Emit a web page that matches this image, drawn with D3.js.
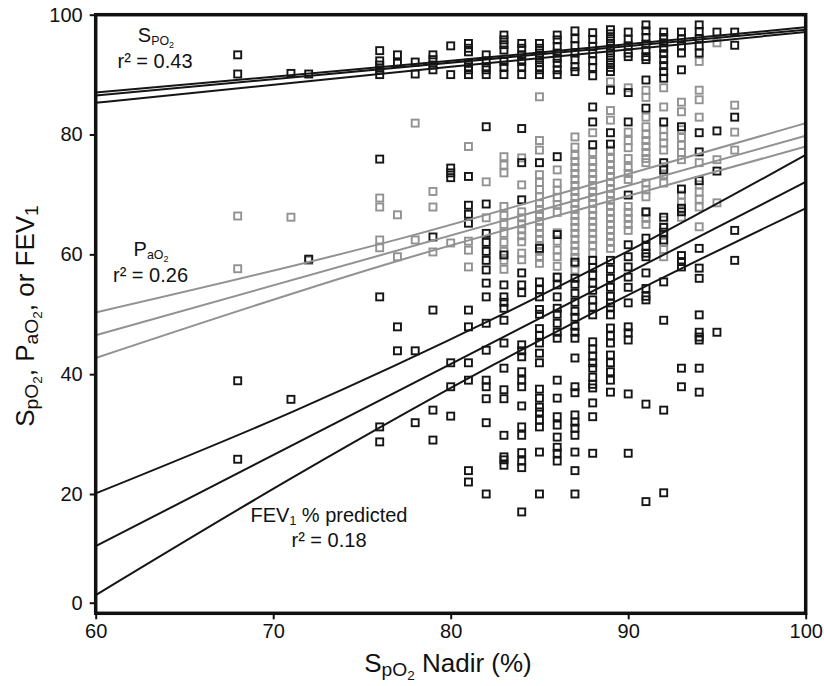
<!DOCTYPE html>
<html><head><meta charset="utf-8">
<script src="https://cdn.jsdelivr.net/npm/d3@7"></script>
<style>
html,body{margin:0;padding:0;background:#fff;}
svg text{font-family:"Liberation Sans",Arial,sans-serif;fill:#111;}
</style></head>
<body><svg id="chart" width="824" height="686"></svg>
<script>
// ---- data ----
const xTicks = [60, 70, 80, 90, 100];
const yTicks = [0, 20, 40, 60, 80, 100];

// awake SpO2 (black squares, top cluster)
const spo2Points = [
 [68,[93.3,90.1]],[71,[90.2]],[72,[90.1]],
 [76,[94.0,92.3,91.6,90.8,90.0]],[77,[93.3,91.9]],[78,[92.1,90.1]],
 [79,[93.3,92.5,91.6,90.8]],[80,[94.8,90.0]],
 [81,[95.2,94.4,93.8,91.9,91.3,90.8,90.0]],[82,[93.3,92.3,91.3,90.8,90.0]],
 [83,[96.6,95.8,95.0,94.1,92.2,91.3,90.0]],[84,[95.2,94.4,93.3,92.2,91.3,90.0]],
 [85,[95.2,94.4,93.6,92.8,92.0,91.3,90.8,90.0]],[86,[96.6,95.8,94.7,93.6,92.7,91.9,90.8,90.0]],
 [87,[97.3,96.0,94.8,93.6,92.5,91.3,90.5]],[88,[97.0,95.9,94.7,93.5,92.3,91.2,89.8]],
 [89,[97.5,96.8,96.0,95.2,94.4,93.6,92.8,92.0,91.2,90.5]],[90,[97.1,95.9,94.8,93.6,93.0]],
 [91,[98.3,97.3,96.2,95.1,94.0,93.0,92.5]],[92,[97.1,96.2,95.3,94.4,93.5,92.5,91.5,90.5,89.4]],
 [93,[97.1,96.0,94.8,93.6,90.8]],[94,[98.3,97.2,96.0,94.8,93.6]],[95,[97.1]],[96,[97.1,94.9]]
];

// PaO2 (grey squares)
const pao2Points = [
 [68,[66.4,57.6]],[71,[66.2]],[72,[59.0]],[76,[69.4,67.9,62.4,61.1]],[77,[66.6,59.6]],
 [78,[81.9,62.4]],[79,[70.5,67.9,60.4]],[80,[61.9]],[81,[78.0,62.2,60.7,57.9]],[82,[72.1,66.1]],
 [83,[76.3,74.9,73.6,68.0,66.5,65.0,63.5,62.0,60.5,59.0,57.5]],
 [84,[76.1,71.6,67.1,66.1,65.1,64.1,63.1,62.1,60.2,59.1]],
 [85,[86.3,79.0,77.4,73.3,72.0,70.8,69.6,68.5,67.5,66.5,65.5,64.5,63.5,62.5,61.5,60.5,59.5,58.5]],
 [86,[74.1,71.9,70.7,69.5,68.3,67.0,63.6,62.2,60.7,59.6,58.0,56.2]],
 [87,[79.6,77.9,76.5,75.5,74.5,73.5,72.5,71.5,70.5,69.5,68.5,67.5,66.5,65.5,64.5,63.5,62.5,61.5,60.5,59.5,58.5,57.4]],
 [88,[80.3,77.0,75.5,74.5,73.5,72.5,71.5,70.5,69.5,68.5,67.5,66.5,65.5,64.5,63.5,62.5,61.5,60.2]],
 [89,[88.8,84.0,82.4,77.4,76.0,75.0,74.0,73.0,72.0,71.0,70.0,69.0,68.0,67.0,66.0,65.0,64.0,63.0,62.0,61.0]],
 [90,[87.8,80.4,79.0,77.8,76.0,74.5,73.5,72.5,68.0,67.0,66.0,65.0,64.0]],
 [91,[87.4,86.2,82.9,81.3,80.0,79.0,78.0,77.0,76.0,75.3,71.9,70.8,69.6,67.0,66.0,65.0]],
 [92,[87.8,84.6,80.8,79.7,78.6,77.4,74.6,73.3,71.9,65.7,64.5,63.3,62.0,60.8,59.6]],
 [93,[85.4,83.8,80.8,79.5,78.2,77.0,75.8,69.9,68.7,67.5,66.2]],
 [94,[92.2,87.4,85.8,82.9,75.3,71.6,70.4,69.2,67.9,64.6]],
 [95,[95.3,75.8,68.6]],[96,[84.9,80.4,77.4]]
];

// FEV1 % predicted (black squares, lower cloud)
const fev1Points = [
 [68,[38.9,25.8]],[71,[35.8]],[72,[59.2]],[76,[75.9,52.9,31.2,28.7]],[77,[47.9,43.9]],
 [78,[43.9,31.9]],[79,[62.9,50.7,34.0,29.0]],[80,[74.4,73.6,72.8,41.9,37.9,33.0]],
 [81,[73.0,68.2,66.7,65.2,50.7,47.9,41.9,39.0,23.9,22.0]],
 [82,[81.3,68.4,63.5,62.0,60.5,59.0,57.4,55.2,52.9,48.5,44.0,39.0,37.9,35.9,31.9,20.0]],
 [83,[59.9,54.9,52.9,52.0,51.0,49.0,45.2,41.0,37.4,35.9,29.8,26.2,25.7,24.8]],
 [84,[81.0,75.3,69.1,56.9,54.9,53.6,44.9,43.9,42.9,40.4,39.0,37.9,34.7,31.2,29.8,26.9,25.5,24.4,16.7]],
 [85,[75.3,61.0,55.4,54.1,52.9,50.8,50.0,47.6,46.5,45.2,43.5,41.9,37.5,36.0,34.5,33.7,32.3,31.2,27.0,20.0]],
 [86,[76.3,63.3,56.2,54.9,52.9,51.0,50.0,48.5,47.0,46.0,39.0,36.0,32.9,31.5,29.5,27.8,26.8,25.5]],
 [87,[58.7,56.0,55.0,53.5,52.0,50.5,49.5,48.0,47.0,46.0,42.7,37.9,36.9,33.2,32.0,31.0,29.8,27.0,23.9,20.0]],
 [88,[84.6,82.1,78.3,59.0,57.8,56.5,55.2,54.0,52.4,51.2,49.9,45.4,44.2,43.0,41.9,41.0,39.5,38.3,37.7,35.2,32.9,26.8]],
 [89,[87.4,80.3,78.4,59.0,57.5,56.0,54.5,53.0,51.9,51.2,49.9,47.7,46.4,45.2,43.2,41.9,40.4,39.0,37.0]],
 [90,[87.0,82.1,69.9,61.6,59.6,57.9,56.2,54.5,51.9,47.9,46.9,45.7,36.7,26.8]],
 [91,[89.1,84.4,67.1,62.7,61.3,60.2,59.6,56.9,54.3,53.0,52.4,35.0,18.6]],
 [92,[82.1,75.3,74.1,66.2,64.5,63.7,62.4,55.4,49.0,34.0,20.2]],
 [93,[81.3,70.9,67.7,67.1,59.8,58.8,57.9,41.0,37.9]],
 [94,[80.3,77.1,72.3,61.0,57.7,56.0,49.9,47.0,46.2,45.7,41.0,37.0]],
 [95,[80.6,73.9,47.0]],[96,[82.9,64.0,59.0]]
];

// regression lines and confidence bands
const spo2Fit   = [[60,86.5],[100,97.5]];
const spo2Upper = [[60,87.0],[80,92.3],[100,97.9]];
const spo2Lower = [[60,85.3],[80,91.3],[100,97.1]];
const pao2Fit   = [[60,46.5],[100,79.8]];
const pao2Upper = [[60,50.3],[77,62.5],[88,71.7],[100,81.9]];
const pao2Lower = [[60,42.7],[77,58.9],[88,68.1],[100,78.0]];
const fev1Fit   = [[60,10.4],[100,72.1]];
const fev1Upper = [[60,20.1],[71.3,34.0],[82.5,49.4],[91,62.1],[100,76.6]];
const fev1Lower = [[60,1.4],[71.3,23.1],[82.5,41.7],[91,54.7],[100,67.7]];

// ---- chart ----
const svg = d3.select("#chart");
const x = d3.scaleLinear().domain([60, 100]).range([95.7, 805.7]);
const y = d3.scaleLinear().domain([0, 20, 100]).range([602.7, 494, 14.7]);
const yBottomVal = -1.95;

const BLACK = "#151515", GREY = "#929292";

function flat(arr){ const out=[]; arr.forEach(([xv,ys])=>ys.forEach(v=>out.push([xv,v]))); return out; }

// points
const S = 7;
function drawPts(data, color, cls){
  svg.append("g").attr("class",cls).selectAll("rect").data(flat(data)).join("rect")
    .attr("x", d=>x(d[0])-S/2).attr("y", d=>y(d[1])-S/2)
    .attr("width",S).attr("height",S)
    .attr("fill","none").attr("stroke",color).attr("stroke-width",1.9);
}
drawPts(pao2Points, GREY, "pao2");
drawPts(spo2Points, BLACK, "spo2");
drawPts(fev1Points, BLACK, "fev1");

// lines
const line = d3.line().x(d=>x(d[0])).y(d=>y(d[1])).curve(d3.curveMonotoneX);
const lg = svg.append("g").attr("fill","none");
[[pao2Fit,GREY],[pao2Upper,GREY],[pao2Lower,GREY],
 [spo2Fit,BLACK],[spo2Upper,BLACK],[spo2Lower,BLACK],
 [fev1Fit,BLACK],[fev1Upper,BLACK],[fev1Lower,BLACK]].forEach(([d,c])=>{
  lg.append("path").attr("d",line(d)).attr("stroke",c).attr("stroke-width",2);
});

// axes
const xAxis = d3.axisBottom(x).tickValues(xTicks).tickSize(6).tickPadding(5);
const yAxis = d3.axisLeft(y).tickValues(yTicks).tickSize(6).tickPadding(7);
const gx = svg.append("g").attr("transform",`translate(0,${y(yBottomVal)})`).call(xAxis);
const gy = svg.append("g").attr("transform",`translate(${x(60)},0)`).call(yAxis);
[gx,gy].forEach(g=>{
  g.select(".domain").remove();
  g.selectAll(".tick line").attr("stroke","#111").attr("stroke-width",2);
  g.selectAll(".tick text").attr("font-size",20).attr("fill","#111")
   .attr("font-family","Liberation Sans, Arial, sans-serif");
});

// frame
svg.append("rect").attr("x",x(60)).attr("y",y(100))
  .attr("width",x(100)-x(60)).attr("height",y(yBottomVal)-y(100))
  .attr("fill","none").attr("stroke","#111").attr("stroke-width",3.5);

// rich text helper: parts [text, level] level 0 normal, 1 sub, 2 subsub
function rich(g, px, py, parts, size, anchor, rot, opt){
  const t = g.append("text").attr("x",px).attr("y",py).attr("font-size",size)
    .attr("text-anchor",anchor||"start");
  if(rot) t.attr("transform",`rotate(${rot},${px},${py})`);
  let level=0;
  const o = opt || {shift:[0,0.13,0.16], scale:[1,0.62,0.45]};
  parts.forEach(([txt,l])=>{
    let dy=0;
    if(l>level){ for(let k=level+1;k<=l;k++) dy+=o.shift[k]*size; }
    else if(l<level){ for(let k=level;k>l;k--) dy-=o.shift[k]*size; }
    t.append("tspan").attr("dy",dy).attr("font-size",size*o.scale[l]).text(txt);
    level=l;
  });
  return t;
}

// annotations
rich(svg,156,42,[["S",0],["PO",1],["2",2]],20,"middle");
svg.append("text").attr("x",155).attr("y",67.5).attr("font-size",20).attr("text-anchor","middle").text("r\u00b2 = 0.43");
rich(svg,151,256,[["P",0],["aO",1],["2",2]],20,"middle");
svg.append("text").attr("x",150.5).attr("y",281.5).attr("font-size",20).attr("text-anchor","middle").text("r\u00b2 = 0.26");
rich(svg,329,522,[["FEV",0],["1",1],[" % predicted",0]],20,"middle");
svg.append("text").attr("x",329).attr("y",546.5).attr("font-size",20).attr("text-anchor","middle").text("r\u00b2 = 0.18");

// axis titles
const titleOpt = {shift:[0,0.17,0.12], scale:[1,0.74,0.52]};
rich(svg,448,672,[["S",0],["pO",1],["2",2],[" Nadir (%)",0]],26,"middle",0,titleOpt);
rich(svg,34,316,[["S",0],["pO",1],["2",2],[", P",0],["aO",1],["2",2],[", or FEV",0],["1",1]],26,"middle",-90,titleOpt);
</script></body></html>
